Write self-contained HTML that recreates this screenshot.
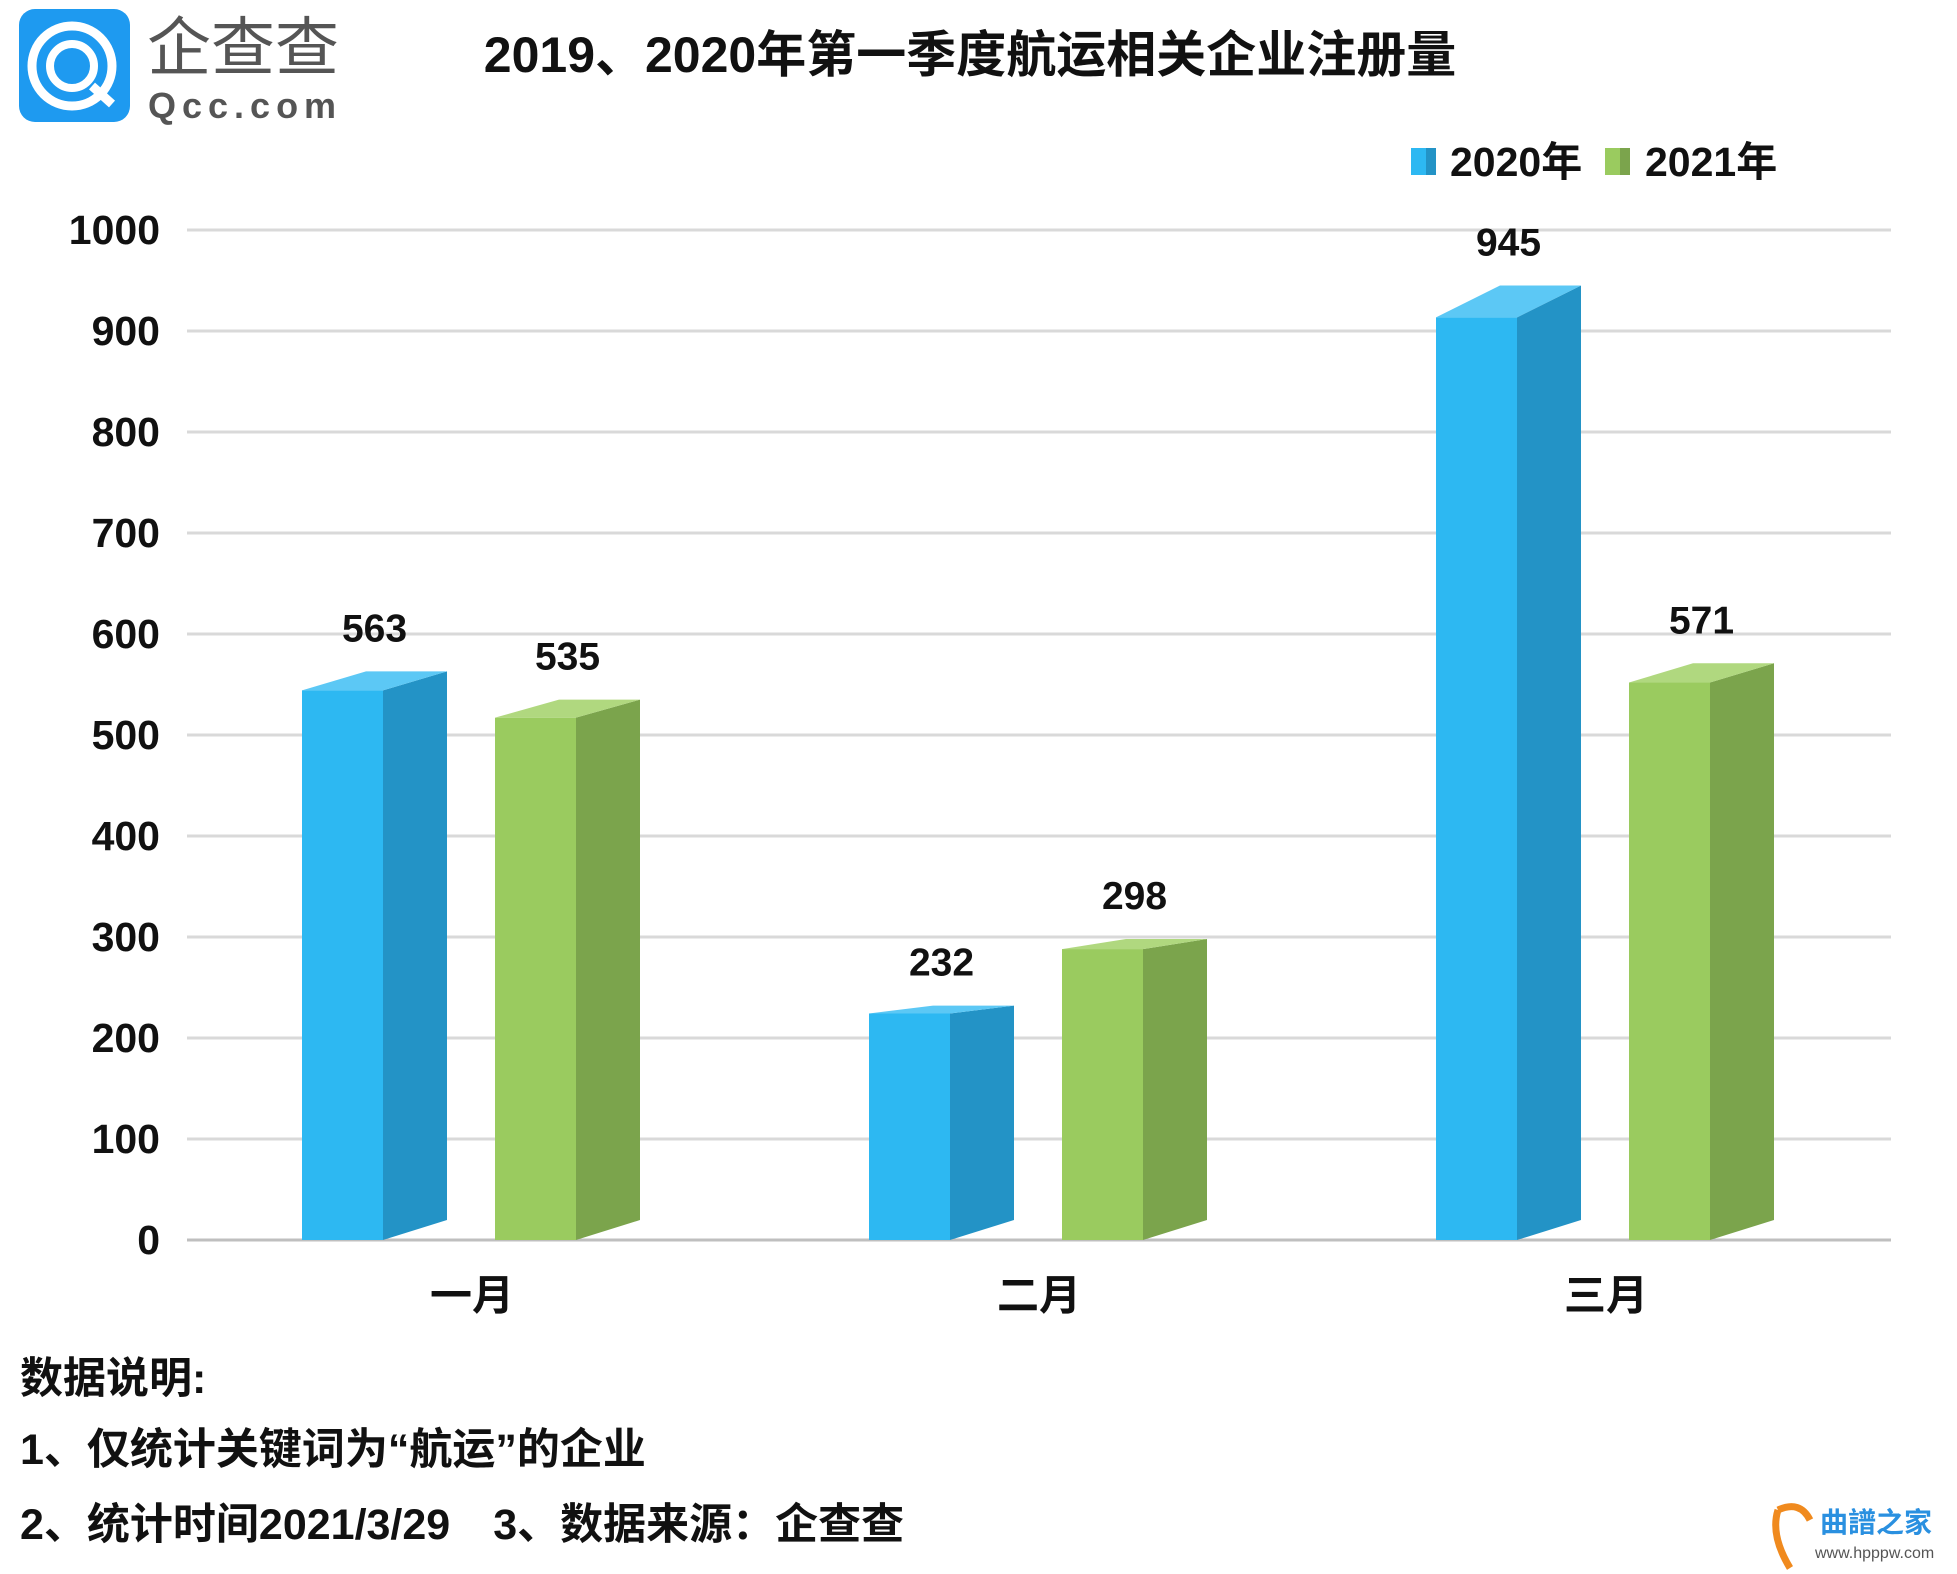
<!DOCTYPE html>
<html><head><meta charset="utf-8"><style>
html,body{margin:0;padding:0;background:#fff;}
svg{display:block;font-family:"Liberation Sans","Noto Sans CJK SC",sans-serif;}
</style></head><body>
<svg id="chart" width="1957" height="1574" viewBox="0 0 1957 1574">
<g>
<rect x="19" y="9" width="111" height="113" rx="16" fill="#1e9af0"/>
<circle cx="72" cy="66" r="40" fill="none" stroke="#fff" stroke-width="9"/>
<circle cx="72" cy="66" r="22" fill="none" stroke="#fff" stroke-width="8"/>
<path d="M92 86 L112 104" stroke="#fff" stroke-width="9"/>
<text x="147" y="70" font-size="64" fill="#555">企查查</text>
<text x="148" y="118" font-size="36" fill="#555" letter-spacing="6" font-weight="bold">Qcc.com</text>
</g>
<text x="970" y="72" font-size="50" font-weight="bold" text-anchor="middle" fill="#111">2019、2020年第一季度航运相关企业注册量</text>
<g>
<rect x="1411" y="148" width="15" height="27" fill="#2db8f2"/><rect x="1426" y="148" width="10" height="27" fill="#2393c6"/>
<text x="1450" y="176" font-size="41" font-weight="bold" fill="#111">2020年</text>
<rect x="1605" y="148" width="15" height="27" fill="#9acb5f"/><rect x="1620" y="148" width="10" height="27" fill="#7ba44c"/>
<text x="1645" y="176" font-size="41" font-weight="bold" fill="#111">2021年</text>
</g>
<g id="grid"></g><g id="bars"></g>
<g font-size="43" font-weight="bold" fill="#111">
<text x="20" y="1393">数据说明:</text>
<text x="20" y="1464">1、仅统计关键词为“航运”的企业</text>
<text x="20" y="1539">2、统计时间2021/3/29　3、数据来源：企查查</text>
</g>
<g>
<path d="M1778 1510 Q1770 1535 1790 1568 M1778 1510 Q1800 1500 1810 1520" stroke="#f08a1e" stroke-width="7" fill="none"/>
<text x="1820" y="1532" font-size="28" font-weight="bold" fill="#2a90e0">曲譜之家</text>
<text x="1815" y="1558" font-size="16" fill="#555">www.hpppw.com</text>
</g>
</svg>
<script>
const categories = ["一月","二月","三月"];
const series2020 = [563, 232, 945];
const series2021 = [535, 298, 571];
const yTicks = [0,100,200,300,400,500,600,700,800,900,1000];
const NS="http://www.w3.org/2000/svg";
const y0=1240, pxPer=1.01, xL=187, xR=1891;
function yS(v){return y0-v*pxPer;}
function groupX(i){return 302+i*567;}
function mk(tag,attrs,parent){const e=document.createElementNS(NS,tag);for(const k in attrs)e.setAttribute(k,attrs[k]);parent.appendChild(e);return e;}
const grid=document.getElementById('grid'), bars=document.getElementById('bars');
yTicks.forEach(t=>{
  const l=mk('line',{x1:xL,x2:xR,y1:yS(t),y2:yS(t),stroke:t===0?'#bfbfbf':'#d9d9d9','stroke-width':3},grid);
  
  
  const tx=mk('text',{x:160,y:yS(t)+14,'font-size':41,'font-weight':'bold','text-anchor':'end',fill:'#111'},grid);
  tx.textContent=t;
  
  
});
function bar(x,v,cols,name){
  const w=81,sw=64,db=20,yt=yS(v);
  const d=Math.max(6,v*0.0337);
  const g=mk('g',{},bars);
  
  
  mk('rect',{x:x,y:yt+d,width:w,height:y0-yt-d,fill:cols[0]},g);
  mk('polygon',{points:`${x+w},${yt+d} ${x+w+sw},${yt} ${x+w+sw},${y0-db} ${x+w},${y0}`,fill:cols[1]},g);
  mk('polygon',{points:`${x},${yt+d} ${x+w},${yt+d} ${x+w+sw},${yt} ${x+sw},${yt}`,fill:cols[2]},g);
  const t=mk('text',{x:x+(w+sw)/2,y:yt-30,'font-size':39,'font-weight':'bold','text-anchor':'middle',fill:'#111'},bars);
  t.textContent=v;
  
  
}
categories.forEach((c,i)=>{
  const gx=groupX(i);
  bar(gx,series2020[i],['#2db8f2','#2393c6','#5cc8f5'],'bar-2020-'+(i+1));
  bar(gx+193,series2021[i],['#9acb5f','#7ba44c','#b0d87f'],'bar-2021-'+(i+1));
  const t=mk('text',{x:gx+170,y:1310,'font-size':42,'font-weight':'bold','text-anchor':'middle',fill:'#111'},bars);
  t.textContent=c;
  
  
});
</script>
</body></html>
